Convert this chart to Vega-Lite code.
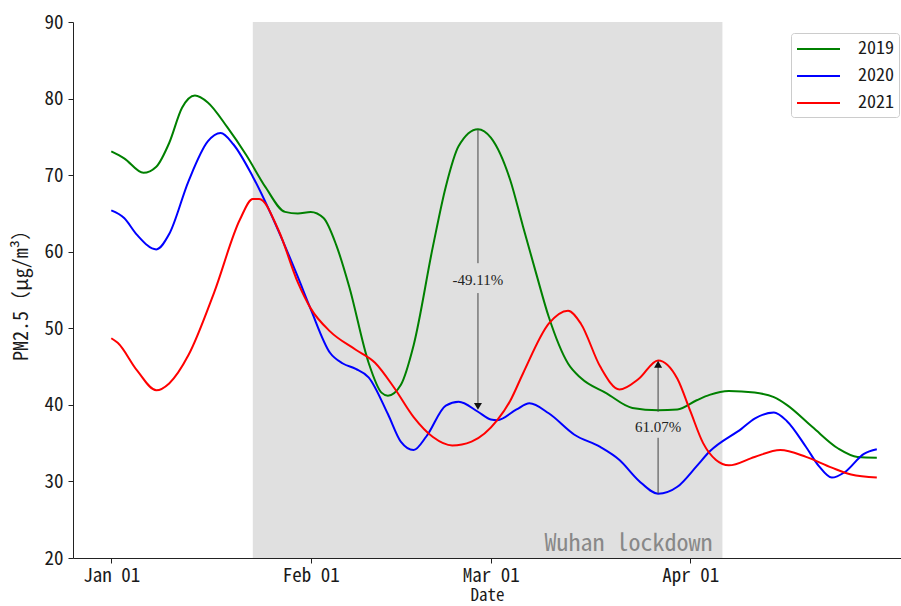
{
  "$schema": "https://vega.github.io/schema/vega-lite/v6.json",
  "width": 828,
  "height": 536,
  "autosize": {"type": "none"},
  "padding": {"left": 73, "top": 22, "right": 0, "bottom": 48},
  "background": "white",
  "config": {"view": {"stroke": null}},
  "datasets": {
    "shade": [{"start": "2021-01-23", "end": "2021-04-06", "label": "Wuhan lockdown"}],
    "pm": [
      {"date": "2021-01-01", "year": "2019", "value": 73.1},
      {"date": "2021-01-03", "year": "2019", "value": 72.2},
      {"date": "2021-01-06", "year": "2019", "value": 70.3},
      {"date": "2021-01-08", "year": "2019", "value": 71.1},
      {"date": "2021-01-10", "year": "2019", "value": 74.2},
      {"date": "2021-01-12", "year": "2019", "value": 78.8},
      {"date": "2021-01-14", "year": "2019", "value": 80.4},
      {"date": "2021-01-16", "year": "2019", "value": 79.5},
      {"date": "2021-01-19", "year": "2019", "value": 76.3},
      {"date": "2021-01-22", "year": "2019", "value": 72.6},
      {"date": "2021-01-25", "year": "2019", "value": 68.4},
      {"date": "2021-01-28", "year": "2019", "value": 65.2},
      {"date": "2021-01-30", "year": "2019", "value": 65.0},
      {"date": "2021-02-01", "year": "2019", "value": 65.2},
      {"date": "2021-02-03", "year": "2019", "value": 64.4},
      {"date": "2021-02-05", "year": "2019", "value": 60.8},
      {"date": "2021-02-07", "year": "2019", "value": 55.4},
      {"date": "2021-02-10", "year": "2019", "value": 45.5},
      {"date": "2021-02-12", "year": "2019", "value": 41.6},
      {"date": "2021-02-13", "year": "2019", "value": 41.2},
      {"date": "2021-02-15", "year": "2019", "value": 42.6},
      {"date": "2021-02-17", "year": "2019", "value": 47.8},
      {"date": "2021-02-20", "year": "2019", "value": 60.7},
      {"date": "2021-02-22", "year": "2019", "value": 68.5},
      {"date": "2021-02-24", "year": "2019", "value": 73.8},
      {"date": "2021-02-27", "year": "2019", "value": 76.0},
      {"date": "2021-03-01", "year": "2019", "value": 74.9},
      {"date": "2021-03-04", "year": "2019", "value": 69.4},
      {"date": "2021-03-06", "year": "2019", "value": 63.3},
      {"date": "2021-03-08", "year": "2019", "value": 57.3},
      {"date": "2021-03-10", "year": "2019", "value": 51.5},
      {"date": "2021-03-13", "year": "2019", "value": 45.4},
      {"date": "2021-03-15", "year": "2019", "value": 43.5},
      {"date": "2021-03-19", "year": "2019", "value": 41.5},
      {"date": "2021-03-23", "year": "2019", "value": 39.6},
      {"date": "2021-03-27", "year": "2019", "value": 39.3},
      {"date": "2021-03-30", "year": "2019", "value": 39.4},
      {"date": "2021-04-02", "year": "2019", "value": 40.6},
      {"date": "2021-04-04", "year": "2019", "value": 41.3},
      {"date": "2021-04-07", "year": "2019", "value": 41.8},
      {"date": "2021-04-11", "year": "2019", "value": 41.6},
      {"date": "2021-04-14", "year": "2019", "value": 41.0},
      {"date": "2021-04-16", "year": "2019", "value": 40.0},
      {"date": "2021-04-20", "year": "2019", "value": 37.1},
      {"date": "2021-04-24", "year": "2019", "value": 34.3},
      {"date": "2021-04-27", "year": "2019", "value": 33.2},
      {"date": "2021-04-30", "year": "2019", "value": 33.1},

      {"date": "2021-01-01", "year": "2020", "value": 65.4},
      {"date": "2021-01-03", "year": "2020", "value": 64.4},
      {"date": "2021-01-05", "year": "2020", "value": 62.2},
      {"date": "2021-01-08", "year": "2020", "value": 60.3},
      {"date": "2021-01-10", "year": "2020", "value": 62.3},
      {"date": "2021-01-13", "year": "2020", "value": 69.2},
      {"date": "2021-01-16", "year": "2020", "value": 74.4},
      {"date": "2021-01-18", "year": "2020", "value": 75.5},
      {"date": "2021-01-20", "year": "2020", "value": 74.0},
      {"date": "2021-01-23", "year": "2020", "value": 69.8},
      {"date": "2021-01-27", "year": "2020", "value": 62.7},
      {"date": "2021-01-30", "year": "2020", "value": 56.7},
      {"date": "2021-02-01", "year": "2020", "value": 52.5},
      {"date": "2021-02-04", "year": "2020", "value": 46.8},
      {"date": "2021-02-06", "year": "2020", "value": 45.4},
      {"date": "2021-02-08", "year": "2020", "value": 44.7},
      {"date": "2021-02-10", "year": "2020", "value": 43.6},
      {"date": "2021-02-13", "year": "2020", "value": 38.8},
      {"date": "2021-02-15", "year": "2020", "value": 35.2},
      {"date": "2021-02-17", "year": "2020", "value": 34.1},
      {"date": "2021-02-19", "year": "2020", "value": 35.9},
      {"date": "2021-02-22", "year": "2020", "value": 39.9},
      {"date": "2021-02-24", "year": "2020", "value": 40.4},
      {"date": "2021-02-27", "year": "2020", "value": 39.1},
      {"date": "2021-03-01", "year": "2020", "value": 38.1},
      {"date": "2021-03-02", "year": "2020", "value": 38.0},
      {"date": "2021-03-05", "year": "2020", "value": 39.4},
      {"date": "2021-03-07", "year": "2020", "value": 40.2},
      {"date": "2021-03-10", "year": "2020", "value": 38.9},
      {"date": "2021-03-14", "year": "2020", "value": 36.1},
      {"date": "2021-03-18", "year": "2020", "value": 34.5},
      {"date": "2021-03-21", "year": "2020", "value": 32.8},
      {"date": "2021-03-24", "year": "2020", "value": 30.1},
      {"date": "2021-03-27", "year": "2020", "value": 28.4},
      {"date": "2021-03-30", "year": "2020", "value": 29.3},
      {"date": "2021-04-02", "year": "2020", "value": 32.0},
      {"date": "2021-04-04", "year": "2020", "value": 33.9},
      {"date": "2021-04-09", "year": "2020", "value": 36.9},
      {"date": "2021-04-11", "year": "2020", "value": 38.2},
      {"date": "2021-04-14", "year": "2020", "value": 39.0},
      {"date": "2021-04-16", "year": "2020", "value": 37.9},
      {"date": "2021-04-19", "year": "2020", "value": 34.5},
      {"date": "2021-04-21", "year": "2020", "value": 32.0},
      {"date": "2021-04-23", "year": "2020", "value": 30.5},
      {"date": "2021-04-25", "year": "2020", "value": 31.2},
      {"date": "2021-04-28", "year": "2020", "value": 33.6},
      {"date": "2021-04-30", "year": "2020", "value": 34.2},

      {"date": "2021-01-01", "year": "2021", "value": 48.7},
      {"date": "2021-01-02", "year": "2021", "value": 48.1},
      {"date": "2021-01-05", "year": "2021", "value": 44.5},
      {"date": "2021-01-08", "year": "2021", "value": 41.9},
      {"date": "2021-01-10", "year": "2021", "value": 42.8},
      {"date": "2021-01-13", "year": "2021", "value": 46.5},
      {"date": "2021-01-17", "year": "2021", "value": 54.7},
      {"date": "2021-01-21", "year": "2021", "value": 64.2},
      {"date": "2021-01-23", "year": "2021", "value": 66.9},
      {"date": "2021-01-24", "year": "2021", "value": 66.9},
      {"date": "2021-01-27", "year": "2021", "value": 62.8},
      {"date": "2021-01-30", "year": "2021", "value": 56.0},
      {"date": "2021-02-01", "year": "2021", "value": 52.6},
      {"date": "2021-02-04", "year": "2021", "value": 49.6},
      {"date": "2021-02-08", "year": "2021", "value": 47.2},
      {"date": "2021-02-11", "year": "2021", "value": 45.5},
      {"date": "2021-02-14", "year": "2021", "value": 42.2},
      {"date": "2021-02-17", "year": "2021", "value": 38.4},
      {"date": "2021-02-20", "year": "2021", "value": 35.8},
      {"date": "2021-02-23", "year": "2021", "value": 34.7},
      {"date": "2021-02-26", "year": "2021", "value": 35.2},
      {"date": "2021-03-02", "year": "2021", "value": 38.0},
      {"date": "2021-03-04", "year": "2021", "value": 40.5},
      {"date": "2021-03-06", "year": "2021", "value": 44.1},
      {"date": "2021-03-10", "year": "2021", "value": 50.6},
      {"date": "2021-03-13", "year": "2021", "value": 52.3},
      {"date": "2021-03-15", "year": "2021", "value": 50.6},
      {"date": "2021-03-18", "year": "2021", "value": 45.0},
      {"date": "2021-03-21", "year": "2021", "value": 42.0},
      {"date": "2021-03-24", "year": "2021", "value": 43.4},
      {"date": "2021-03-27", "year": "2021", "value": 45.8},
      {"date": "2021-03-30", "year": "2021", "value": 43.4},
      {"date": "2021-04-01", "year": "2021", "value": 39.2},
      {"date": "2021-04-03", "year": "2021", "value": 35.0},
      {"date": "2021-04-05", "year": "2021", "value": 32.8},
      {"date": "2021-04-07", "year": "2021", "value": 32.1},
      {"date": "2021-04-11", "year": "2021", "value": 33.2},
      {"date": "2021-04-15", "year": "2021", "value": 34.1},
      {"date": "2021-04-19", "year": "2021", "value": 33.2},
      {"date": "2021-04-23", "year": "2021", "value": 31.8},
      {"date": "2021-04-26", "year": "2021", "value": 30.9},
      {"date": "2021-04-30", "year": "2021", "value": 30.5}
    ],
    "segments": [
      {"date": "2021-02-27", "from": 76.0, "to": 58.5},
      {"date": "2021-02-27", "from": 54.6, "to": 40.0},
      {"date": "2021-03-27", "from": 45.0, "to": 39.1},
      {"date": "2021-03-27", "from": 35.7, "to": 28.4}
    ],
    "heads": [
      {"date": "2021-02-27", "value": 39.8, "shape": "triangle-down"},
      {"date": "2021-03-27", "value": 45.3, "shape": "triangle-up"}
    ],
    "labels": [
      {"date": "2021-02-27", "value": 56.3, "label": "-49.11%"},
      {"date": "2021-03-27", "value": 37.1, "label": "61.07%"}
    ]
  },
  "layer": [
    {
      "data": {"name": "shade"},
      "mark": {"type": "rect", "color": "#e0e0e0"},
      "encoding": {
        "x": {"field": "start", "type": "temporal"},
        "x2": {"field": "end"},
        "y": {"datum": 90, "type": "quantitative"},
        "y2": {"datum": 20}
      }
    },
    {
      "data": {"name": "shade"},
      "mark": {"type": "text", "align": "right", "baseline": "alphabetic", "dx": -10, "dy": -7, "fontSize": 24, "color": "#888888", "font": "Noto Sans Mono CJK SC, Noto Sans CJK SC, DejaVu Sans Mono, monospace"},
      "encoding": {
        "x": {"field": "end", "type": "temporal"},
        "y": {"datum": 20, "type": "quantitative"},
        "text": {"field": "label"}
      }
    },
    {
      "data": {"name": "pm"},
      "mark": {"type": "line", "interpolate": "monotone", "strokeWidth": 2},
      "encoding": {
        "x": {
          "field": "date", "type": "temporal",
          "scale": {"type": "utc", "domain": [
            {"year": 2020, "month": 12, "date": 26, "hours": 1, "minutes": 12, "utc": true},
            {"year": 2021, "month": 5, "date": 3, "hours": 18, "minutes": 14, "utc": true}
          ]},
          "axis": {
            "values": [
              {"year": 2021, "month": 1, "date": 1, "utc": true},
              {"year": 2021, "month": 2, "date": 1, "utc": true},
              {"year": 2021, "month": 3, "date": 1, "utc": true},
              {"year": 2021, "month": 4, "date": 1, "utc": true}
            ],
            "labelExpr": "utcFormat(datum.value, '%b %d')",
            "grid": false, "title": "Date",
            "labelFont": "Noto Sans Mono CJK SC, Noto Sans CJK SC, DejaVu Sans Mono, monospace",
            "labelFontSize": 19, "labelColor": "#1a1a1a", "labelPadding": 3,
            "labelFlush": false, "labelOverlap": false,
            "tickSize": 5, "tickColor": "#222222", "domainColor": "#222222",
            "titleFont": "Noto Sans Mono CJK SC, Noto Sans CJK SC, DejaVu Sans Mono, monospace",
            "titleFontSize": 17, "titleFontWeight": "normal", "titleColor": "#1a1a1a", "titlePadding": 2
          }
        },
        "y": {
          "field": "value", "type": "quantitative",
          "scale": {"domain": [20, 90], "nice": false, "zero": false},
          "axis": {
            "values": [20, 30, 40, 50, 60, 70, 80, 90],
            "grid": false, "title": "PM2.5（μg/m³）",
            "labelFont": "Noto Sans Mono CJK SC, Noto Sans CJK SC, DejaVu Sans Mono, monospace",
            "labelFontSize": 19, "labelColor": "#1a1a1a", "labelPadding": 5,
            "labelFlush": false, "labelOverlap": false,
            "tickSize": 5, "tickColor": "#222222", "domainColor": "#222222",
            "titleFont": "Noto Sans Mono CJK SC, Noto Sans CJK SC, DejaVu Sans Mono, monospace",
            "titleFontSize": 20, "titleFontWeight": "normal", "titleColor": "#1a1a1a", "titlePadding": 12
          }
        },
        "color": {
          "field": "year", "type": "nominal",
          "scale": {"domain": ["2019", "2020", "2021"], "range": ["#008000", "#0000ff", "#ff0000"]},
          "legend": {
            "title": null, "orient": "none", "legendX": 718, "legendY": 11,
            "symbolType": "M-1,0H3.3", "symbolSize": 400, "symbolStrokeWidth": 2,
            "labelFont": "Noto Sans Mono CJK SC, Noto Sans CJK SC, DejaVu Sans Mono, monospace",
            "labelFontSize": 18, "labelColor": "#1a1a1a", "labelOffset": 40,
            "rowPadding": 7, "padding": 5,
            "strokeColor": "#cccccc", "fillColor": "white", "cornerRadius": 3
          }
        }
      }
    },
    {
      "data": {"name": "segments"},
      "mark": {"type": "rule", "color": "#444444", "strokeWidth": 1},
      "encoding": {
        "x": {"field": "date", "type": "temporal"},
        "y": {"field": "from", "type": "quantitative"},
        "y2": {"field": "to"}
      }
    },
    {
      "data": {"name": "heads"},
      "mark": {"type": "point", "filled": true, "color": "#111111", "size": 64, "opacity": 1},
      "encoding": {
        "x": {"field": "date", "type": "temporal"},
        "y": {"field": "value", "type": "quantitative"},
        "shape": {"field": "shape", "type": "nominal", "scale": null, "legend": null}
      }
    },
    {
      "data": {"name": "labels"},
      "mark": {"type": "text", "align": "center", "baseline": "middle", "font": "Liberation Serif, Times New Roman, serif", "fontSize": 15, "color": "#222222"},
      "encoding": {
        "x": {"field": "date", "type": "temporal"},
        "y": {"field": "value", "type": "quantitative"},
        "text": {"field": "label"}
      }
    },
    {
      "mark": {"type": "rule", "color": "#222222", "strokeWidth": 1},
      "encoding": {"y": {"datum": 90, "type": "quantitative"}}
    }
  ]
}
